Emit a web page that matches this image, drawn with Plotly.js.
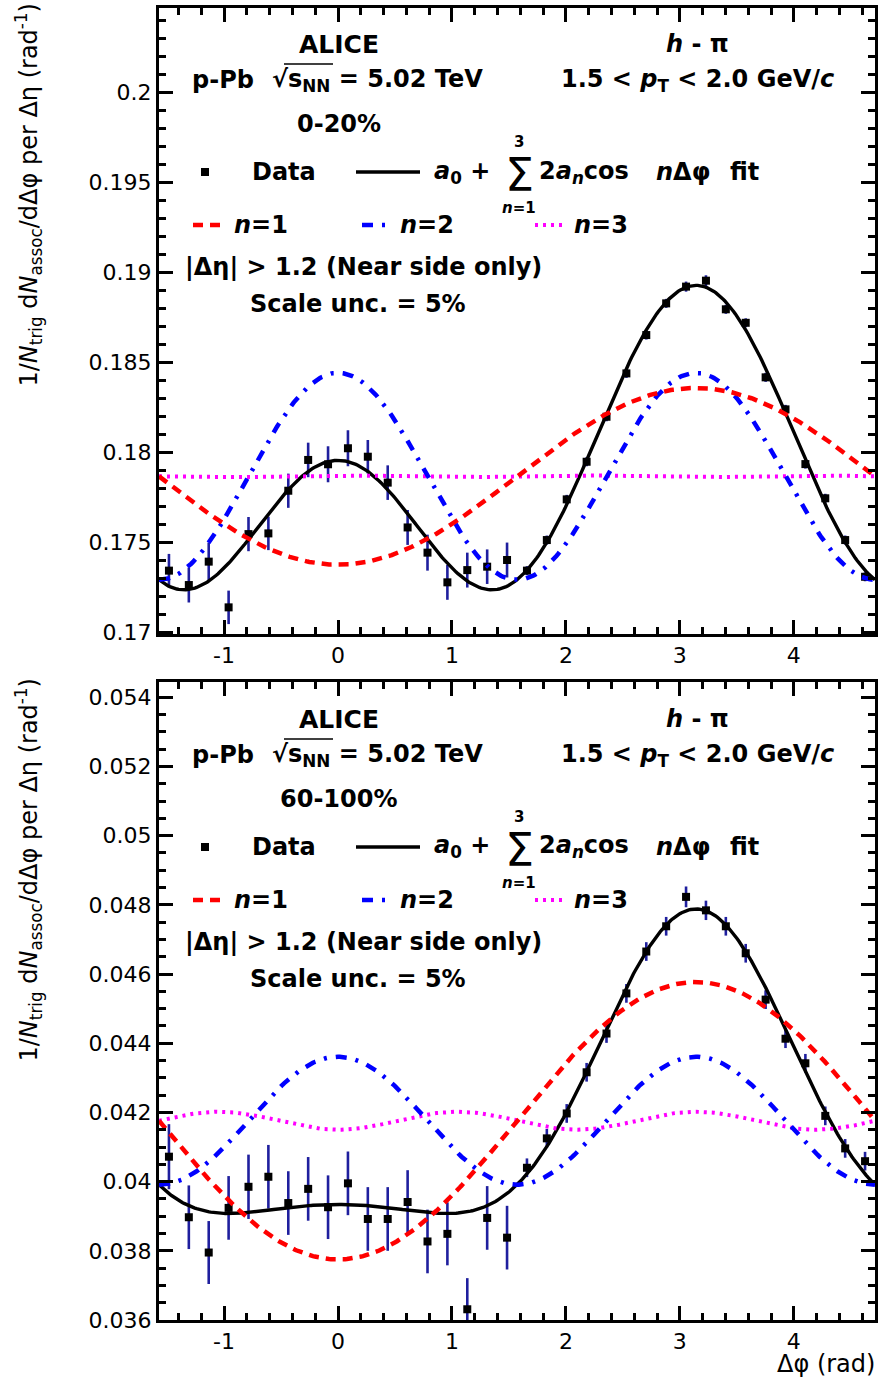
<!DOCTYPE html>
<html>
<head>
<meta charset="utf-8">
<script src="https://cdn.plot.ly/plotly-3.0.1.min.js"></script>
<style>
  html, body { margin: 0; padding: 0; background: #ffffff; }
  #chart { width: 878px; height: 1378px; }
</style>
</head>
<body>
<div id="chart"></div>
<script>
// Δφ bin centres (rad), 36 bins over [-π/2, 3π/2]
const dphi = [
  -1.4835, -1.3090, -1.1345, -0.9599, -0.7854, -0.6109, -0.4363, -0.2618, -0.0873,
   0.0873,  0.2618,  0.4363,  0.6109,  0.7854,  0.9599,  1.1345,  1.3090,  1.4835,
   1.6581,  1.8326,  2.0071,  2.1817,  2.3562,  2.5307,  2.7053,  2.8798,  3.0543,
   3.2289,  3.4034,  3.5779,  3.7525,  3.9270,  4.1015,  4.2761,  4.4506,  4.6251
];

// per-trigger yields, 0-20% multiplicity class
const yield0to20 = [
  0.17341, 0.17261, 0.17391, 0.17137, 0.17544, 0.17548, 0.17785, 0.17956, 0.17932,
  0.18021, 0.17974, 0.17830, 0.17581, 0.17441, 0.17276, 0.17344, 0.17363, 0.17400,
  0.17341, 0.17511, 0.17737, 0.17946, 0.18196, 0.18437, 0.18650, 0.18826, 0.18919,
  0.18952, 0.18793, 0.18718, 0.18415, 0.18237, 0.17933, 0.17743, 0.17511, 0.17307
];
const err0to20 = [
  0.00093, 0.00097, 0.00106, 0.00093, 0.00095, 0.00093, 0.00095, 0.00096, 0.00100,
  0.00100, 0.00093, 0.00096, 0.00097, 0.00100, 0.00097, 0.00097, 0.00096, 0.00097,
  0.00025, 0.00025, 0.00025, 0.00025, 0.00025, 0.00025, 0.00025, 0.00025, 0.00028,
  0.00030, 0.00025, 0.00025, 0.00025, 0.00025, 0.00025, 0.00025, 0.00025, 0.00025
];

// per-trigger yields, 60-100% multiplicity class
const yield60to100 = [
  0.04072, 0.03897, 0.03795, 0.03924, 0.03985, 0.04014, 0.03938, 0.03979, 0.03926,
  0.03995, 0.03892, 0.03892, 0.03941, 0.03827, 0.03849, 0.03631, 0.03895, 0.03838,
  0.04040, 0.04125, 0.04197, 0.04316, 0.04428, 0.04544, 0.04665, 0.04738, 0.04823,
  0.04784, 0.04738, 0.04660, 0.04526, 0.04413, 0.04342, 0.04190, 0.04096, 0.04059
];
const err60to100 = [
  0.00094, 0.00092, 0.00091, 0.00092, 0.00093, 0.00092, 0.00092, 0.00092, 0.00092,
  0.00092, 0.00092, 0.00092, 0.00092, 0.00092, 0.00091, 0.00090, 0.00092, 0.00092,
  0.00027, 0.00027, 0.00027, 0.00027, 0.00027, 0.00027, 0.00027, 0.00027, 0.00030,
  0.00028, 0.00027, 0.00027, 0.00027, 0.00027, 0.00027, 0.00027, 0.00027, 0.00027
];

// Fourier fit coefficients [a0, a1, a2, a3]
const coef0to20 = [0.17865, -0.002455, 0.002875, 0.000025];
const coef60to100 = [0.04176, -0.002005, 0.000925, -0.000130];

// axis tick labels
const xTickVals = [-1, 0, 1, 2, 3, 4];
const xTickText = ["-1", "0", "1", "2", "3", "4"];
const yTickVals0to20 = [0.17, 0.175, 0.18, 0.185, 0.19, 0.195, 0.2];
const yTickText0to20 = ["0.17", "0.175", "0.18", "0.185", "0.19", "0.195", "0.2"];
const yTickVals60to100 = [0.036, 0.038, 0.04, 0.042, 0.044, 0.046, 0.048, 0.05, 0.052, 0.054];
const yTickText60to100 = ["0.036", "0.038", "0.04", "0.042", "0.044", "0.046", "0.048", "0.05", "0.052", "0.054"];

// ---------------------------------------------------------------------------
const FONT = "DejaVu Sans";
const L = 159, R = 875, T = 8, B = 1320;          // plot area in page pixels
const px = x => (x - L) / (R - L);
const py = y => (B - y) / (B - T);

const PHI_MIN = -Math.PI / 2, PHI_MAX = 3 * Math.PI / 2;
const grid = [];
for (let k = 0; k <= 400; k++) grid.push(PHI_MIN + (PHI_MAX - PHI_MIN) * k / 400);

function harmonic(c, n) {           // a0 + 2 a_n cos(n Δφ)
  return grid.map(x => c[0] + 2 * c[n] * Math.cos(n * x));
}
function fullFit(c) {               // a0 + Σ_{n=1..3} 2 a_n cos(n Δφ)
  return grid.map(x => c[0] + 2 * (c[1] * Math.cos(x) + c[2] * Math.cos(2 * x) + c[3] * Math.cos(3 * x)));
}

function panelTraces(c, yv, ev, xa, ya) {
  return [
    { x: dphi, y: yv, xaxis: xa, yaxis: ya, type: "scatter", mode: "markers",
      marker: { symbol: "square", size: 8, color: "#000000" },
      error_y: { type: "data", array: ev, visible: true, color: "#1f1f9e", thickness: 2.6, width: 0 } },
    { x: grid, y: fullFit(c), xaxis: xa, yaxis: ya, type: "scatter", mode: "lines",
      line: { color: "#000000", width: 3.4 } },
    { x: grid, y: harmonic(c, 3), xaxis: xa, yaxis: ya, type: "scatter", mode: "lines",
      line: { color: "#ff00ff", width: 4, dash: "3px,5px" } },
    { x: grid, y: harmonic(c, 2), xaxis: xa, yaxis: ya, type: "scatter", mode: "lines",
      line: { color: "#0000ff", width: 4.5, dash: "11px,9px,3px,9px" } },
    { x: grid, y: harmonic(c, 1), xaxis: xa, yaxis: ya, type: "scatter", mode: "lines",
      line: { color: "#ff0000", width: 4.5, dash: "10px,7px" } }
  ];
}

const traces = [
  ...panelTraces(coef0to20, yield0to20, err0to20, "x", "y"),
  ...panelTraces(coef60to100, yield60to100, err60to100, "x2", "y2")
];

const tickFont = { family: FONT, size: 22, color: "#000000" };
function xAxis(anchor) {
  return {
    anchor: anchor, domain: [0, 1], range: [PHI_MIN, PHI_MAX],
    tickmode: "array", tickvals: xTickVals, ticktext: xTickText,
    ticks: "inside", ticklen: 14, tickwidth: 2.5, tickcolor: "#000000",
    minor: { dtick: 0.2, ticks: "inside", ticklen: 7, tickwidth: 2.5, tickcolor: "#000000" },
    showline: true, linewidth: 3, linecolor: "#000000", mirror: "allticks",
    showgrid: false, zeroline: false, tickfont: tickFont
  };
}
function yAxis(anchor, domain, range, vals, text, minorStep) {
  return {
    anchor: anchor, domain: domain, range: range,
    tickmode: "array", tickvals: vals, ticktext: text,
    ticks: "inside", ticklen: 14, tickwidth: 2.5, tickcolor: "#000000",
    minor: { tickmode: "linear", tick0: vals[0], dtick: minorStep, ticks: "inside", ticklen: 7, tickwidth: 2.5, tickcolor: "#000000" },
    showline: true, linewidth: 3, linecolor: "#000000", mirror: "allticks",
    showgrid: false, zeroline: false, tickfont: tickFont
  };
}

// ---------------------------------------------------------------------------
// text blocks and legend samples
const annotations = [];
const shapes = [];
function txt(text, x, y, o = {}) {
  annotations.push({
    text: text, xref: "paper", yref: "paper", x: px(x), y: py(y),
    xanchor: o.xa || "left", yanchor: o.ya || "middle", showarrow: false,
    textangle: o.angle || 0,
    font: { family: FONT, size: o.size || 24, color: "#000000", weight: o.weight || "bold" }
  });
}
function seg(x0, y0, x1, y1, color, width, dash) {
  shapes.push({ type: "line", xref: "paper", yref: "paper",
    x0: px(x0), y0: py(y0), x1: px(x1), y1: py(y1),
    line: { color: color, width: width, dash: dash || "solid" } });
}

function panelText(dy, centrality) {
  txt("ALICE", 339, 44 + dy, { xa: "center", size: 25 });
  txt("p-Pb", 190, 80 + dy);
  txt("√s<sub>NN</sub> = 5.02 TeV", 270, 80 + dy);
  seg(284, 64 + dy, 333, 64 + dy, "#000000", 1.6);
  txt(centrality, 339, 124 + dy, { xa: "center" });
  txt("<i>h</i> - π", 697, 44 + dy, { xa: "center" });
  txt("1.5 < <i>p</i><sub>T</sub> < 2.0 GeV/<i>c</i>", 697, 80 + dy, { xa: "center" });

  shapes.push({ type: "rect", xref: "paper", yref: "paper",
    x0: px(201), x1: px(209), y0: py(168 + dy), y1: py(176 + dy),
    fillcolor: "#000000", line: { width: 0 } });
  txt("Data", 250, 172 + dy);
  seg(356, 172 + dy, 420, 172 + dy, "#000000", 3.4);
  txt("<i>a</i><sub>0</sub> +", 432, 172 + dy);
  txt("Σ", 519, 175 + dy, { xa: "center", size: 46, weight: "normal" });
  txt("3", 519, 142 + dy, { xa: "center", size: 15 });
  txt("<i>n</i>=1", 519, 208 + dy, { xa: "center", size: 15 });
  txt("2<i>a</i><sub><i>n</i></sub>cos", 537, 172 + dy);
  txt("<i>n</i>Δφ", 654, 172 + dy);
  txt("fit", 728, 172 + dy);

  seg(193, 225 + dy, 226, 225 + dy, "#ff0000", 4.5, "10px,7px");
  txt("<i>n</i>=1", 232, 225 + dy);
  seg(362, 225 + dy, 392, 225 + dy, "#0000ff", 4.5, "11px,9px,3px,9px");
  txt("<i>n</i>=2", 398, 225 + dy);
  seg(535, 225 + dy, 562, 225 + dy, "#ff00ff", 4, "3px,5px");
  txt("<i>n</i>=3", 572, 225 + dy);

  txt("|Δη| > 1.2 (Near side only)", 183, 267 + dy);
  txt("Scale unc. = 5%", 248, 304 + dy);

  txt("1/<i>N</i><sub>trig</sub> d<i>N</i><sub>assoc</sub>/dΔφ per Δη (rad<sup>-1</sup>)",
      28, 2 + dy, { xa: "center", ya: "top", angle: -90, size: 24, weight: "normal" });
}
panelText(0, "0-20%");
panelText(675, "60-100%");
txt("Δφ (rad)", 877, 1364, { xa: "right", size: 24, weight: "normal" });

const layout = {
  width: 878, height: 1378,
  margin: { l: L, r: 878 - R, t: T, b: 1378 - B },
  paper_bgcolor: "#ffffff", plot_bgcolor: "#ffffff",
  showlegend: false,
  xaxis: xAxis("y"),
  xaxis2: xAxis("y2"),
  yaxis: yAxis("x", [py(634), 1], [0.16989, 0.20467], yTickVals0to20, yTickText0to20, 0.001),
  yaxis2: yAxis("x2", [0, py(682)], [0.036, 0.05444], yTickVals60to100, yTickText60to100, 0.0005),
  annotations: annotations,
  shapes: shapes
};

Plotly.newPlot("chart", traces, layout, { displayModeBar: false });
</script>
</body>
</html>
